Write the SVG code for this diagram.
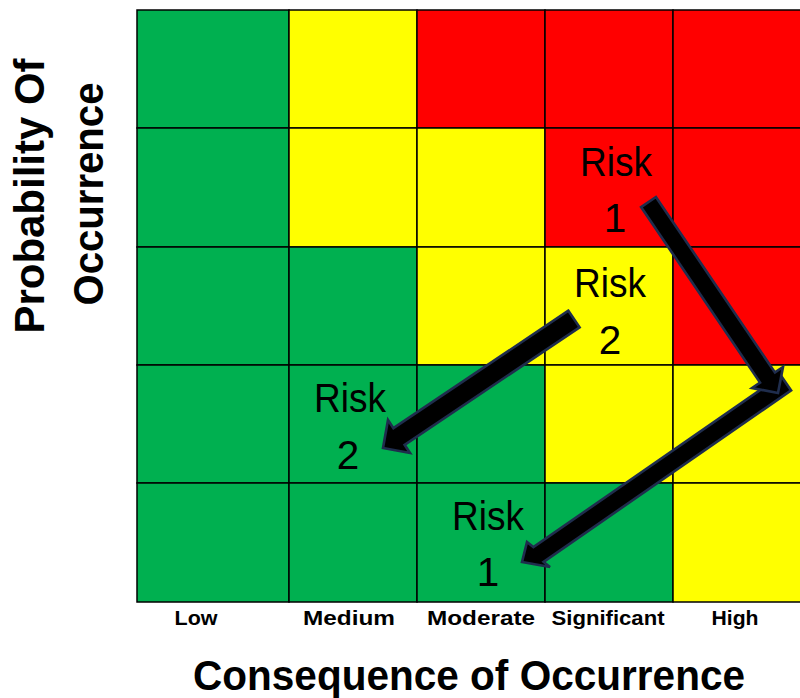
<svg xmlns="http://www.w3.org/2000/svg" width="800" height="698" viewBox="0 0 800 698">
  <style>
    .g { fill: #00B050; }
    .y { fill: #FFFF00; }
    .r { fill: #FF0000; }
    .cell { stroke: #000; stroke-width: 1.5; }
    .risk { font-family: "Liberation Sans", Arial, sans-serif; font-size: 40.5px; fill: #000; text-anchor: middle; }
    .col { font-family: "Liberation Sans", Arial, sans-serif; font-weight: bold; font-size: 21px; fill: #000; text-anchor: middle; }
    .axis { font-family: "Liberation Sans", Arial, sans-serif; font-weight: bold; font-size: 43px; fill: #000; text-anchor: middle; }
    .arrow { fill: #000; stroke: #1F2D4D; stroke-width: 2.6; stroke-linejoin: miter; }
  </style>

  <rect x="0" y="0" width="800" height="698" fill="#fff"/>

  <!-- risk matrix: 5 consequence columns x 5 probability rows -->
  <g id="matrix">
    <!-- row 1 (highest probability) -->
    <rect class="cell g" x="137" y="10" width="152" height="118"/>
    <rect class="cell y" x="289" y="10" width="128" height="118"/>
    <rect class="cell r" x="417" y="10" width="128" height="118"/>
    <rect class="cell r" x="545" y="10" width="128" height="118"/>
    <rect class="cell r" x="673" y="10" width="128" height="118"/>
    <!-- row 2 -->
    <rect class="cell g" x="137" y="128" width="152" height="119"/>
    <rect class="cell y" x="289" y="128" width="128" height="119"/>
    <rect class="cell y" x="417" y="128" width="128" height="119"/>
    <rect class="cell r" x="545" y="128" width="128" height="119"/>
    <rect class="cell r" x="673" y="128" width="128" height="119"/>
    <!-- row 3 -->
    <rect class="cell g" x="137" y="247" width="152" height="118"/>
    <rect class="cell g" x="289" y="247" width="128" height="118"/>
    <rect class="cell y" x="417" y="247" width="128" height="118"/>
    <rect class="cell y" x="545" y="247" width="128" height="118"/>
    <rect class="cell r" x="673" y="247" width="128" height="118"/>
    <!-- row 4 -->
    <rect class="cell g" x="137" y="365" width="152" height="118"/>
    <rect class="cell g" x="289" y="365" width="128" height="118"/>
    <rect class="cell g" x="417" y="365" width="128" height="118"/>
    <rect class="cell y" x="545" y="365" width="128" height="118"/>
    <rect class="cell y" x="673" y="365" width="128" height="118"/>
    <!-- row 5 (lowest probability) -->
    <rect class="cell g" x="137" y="483" width="152" height="119"/>
    <rect class="cell g" x="289" y="483" width="128" height="119"/>
    <rect class="cell g" x="417" y="483" width="128" height="119"/>
    <rect class="cell g" x="545" y="483" width="128" height="119"/>
    <rect class="cell y" x="673" y="483" width="128" height="119"/>
  </g>

  <!-- risk labels -->
  <g id="risk1-before">
    <text class="risk" x="616" y="176" textLength="72" lengthAdjust="spacingAndGlyphs">Risk</text>
    <text class="risk" x="615" y="232">1</text>
  </g>
  <g id="risk2-before">
    <text class="risk" x="610" y="297" textLength="72" lengthAdjust="spacingAndGlyphs">Risk</text>
    <text class="risk" x="610" y="354">2</text>
  </g>
  <g id="risk2-after">
    <text class="risk" x="350" y="412" textLength="72" lengthAdjust="spacingAndGlyphs">Risk</text>
    <text class="risk" x="348" y="469">2</text>
  </g>
  <g id="risk1-after">
    <text class="risk" x="488" y="530" textLength="72" lengthAdjust="spacingAndGlyphs">Risk</text>
    <text class="risk" x="488" y="586">1</text>
  </g>

  <!-- block arrows showing how each risk moves -->
  <g id="connectors">
    <polygon id="risk1-leg2" class="arrow" points="780.9,375.6 533.4,547.1 527,542 522,562 550,567 543.6,561.9 791.1,390.4"/>
    <polygon id="risk1-leg1" class="arrow" points="641.05,207.05 760.05,382.55 752,388 778,393 783,367 774.95,372.45 655.95,196.95"/>
    <polygon id="risk2-move" class="arrow" points="568.4,310.7 393.4,428.2 388,420 383,448 410,453 404.6,444.8 579.6,327.3"/>
  </g>

  <!-- consequence column labels -->
  <g id="columns">
    <text class="col" x="196" y="625" textLength="43" lengthAdjust="spacingAndGlyphs">Low</text>
    <text class="col" x="349" y="625" textLength="92" lengthAdjust="spacingAndGlyphs">Medium</text>
    <text class="col" x="481" y="625" textLength="108" lengthAdjust="spacingAndGlyphs">Moderate</text>
    <text class="col" x="608" y="625" textLength="113" lengthAdjust="spacingAndGlyphs">Significant</text>
    <text class="col" x="735" y="625" textLength="47" lengthAdjust="spacingAndGlyphs">High</text>
  </g>

  <!-- axis titles -->
  <g id="x-axis-title">
    <text class="axis" x="469" y="690" textLength="552" lengthAdjust="spacingAndGlyphs">Consequence of Occurrence</text>
  </g>
  <g id="y-axis-title">
    <text class="axis" transform="translate(44,196) rotate(-90)" x="0" y="0" textLength="275" lengthAdjust="spacingAndGlyphs">Probability Of</text>
    <text class="axis" transform="translate(103,194) rotate(-90)" x="0" y="0" textLength="223" lengthAdjust="spacingAndGlyphs">Occurrence</text>
  </g>
</svg>
